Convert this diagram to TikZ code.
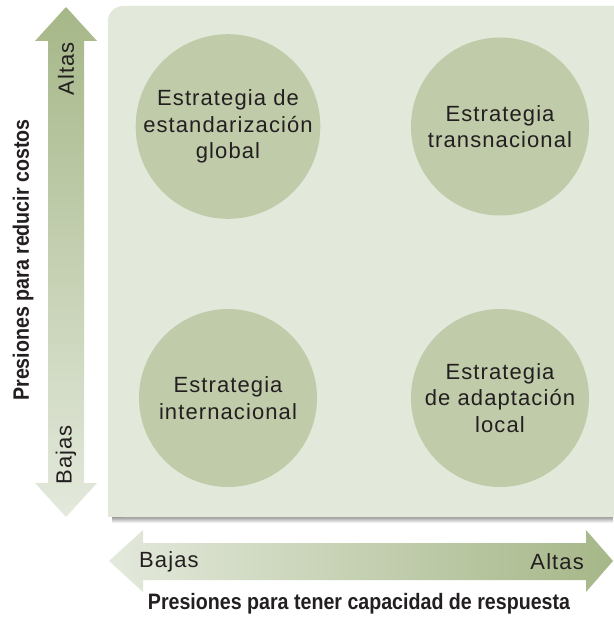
\documentclass[tikz,border=0pt]{standalone}
\usepackage{fontspec}
\setmainfont{Liberation Sans}
\newfontfamily\circfont[LetterSpace=5]{Liberation Sans}
\newfontfamily\labfont[FakeStretch=0.88]{Liberation Sans}
\definecolor{panel}{HTML}{E2E8DA}
\definecolor{circ}{HTML}{C0CBA9}
\definecolor{darkg}{HTML}{A6B788}
\definecolor{lightg}{HTML}{E3E9DC}
\definecolor{ink}{HTML}{231F20}
\tikzset{
  strat/.style={circle, fill=circ, minimum size=178pt, inner sep=0pt, align=center, text=ink,
    font=\circfont\fontsize{22}{26.7}\selectfont},
  arrlab/.style={text=ink, inner sep=0pt, font=\circfont\fontsize{22}{26}\selectfont},
  axlab/.style={text=ink, inner sep=0pt, font=\labfont\bfseries\fontsize{22.3}{26}\selectfont}
}
\begin{document}
\begin{tikzpicture}[x=1pt,y=-1pt]
\useasboundingbox (0,0) rectangle (613,618);
% panel shadow
\shade[top color=black!45, bottom color=white] (112,516) rectangle (613,523);
% panel
\fill[panel, rounded corners=15pt] (108,6) rectangle (640,517);
\fill[panel] (108,470) rectangle (200,517);
% vertical arrow
\shade[top color=darkg, bottom color=lightg]
  (66,7) -- (97,41) -- (84,41) -- (84,483) -- (97,483) -- (66,517) -- (35,483) -- (48,483) -- (48,41) -- (35,41) -- cycle;
% horizontal arrow
\shade[left color=lightg, right color=darkg]
  (109,561) -- (143,530) -- (143,543) -- (586,543) -- (586,530) -- (613,561) -- (586,592) -- (586,580) -- (143,580) -- (143,592) -- cycle;
% circles
\node[strat] (glob) at (228,126.5) {Estrategia de\\estandarización\\global};
\node[strat] (trans) at (500,126.5) {Estrategia\\transnacional};
\node[strat] (inter) at (228,398) {Estrategia\\internacional};
\node[strat] (local) at (500,398) {Estrategia\\de adaptación\\local};
% arrow labels
\node[arrlab, rotate=90] (valta) at (66,69) {Altas};
\node[arrlab, rotate=90] (vbaja) at (66,455) {Bajas};
\node[arrlab, anchor=west] (hbaja) at (139,562) {Bajas};
\node[arrlab, anchor=east] (halta) at (584,562) {Altas};
% axis labels
\node[axlab, rotate=90] (ylab) at (23,260) {Presiones para reducir costos};
\node[axlab] (xlab) at (359,604) {Presiones para tener capacidad de respuesta};
\end{tikzpicture}
\end{document}
